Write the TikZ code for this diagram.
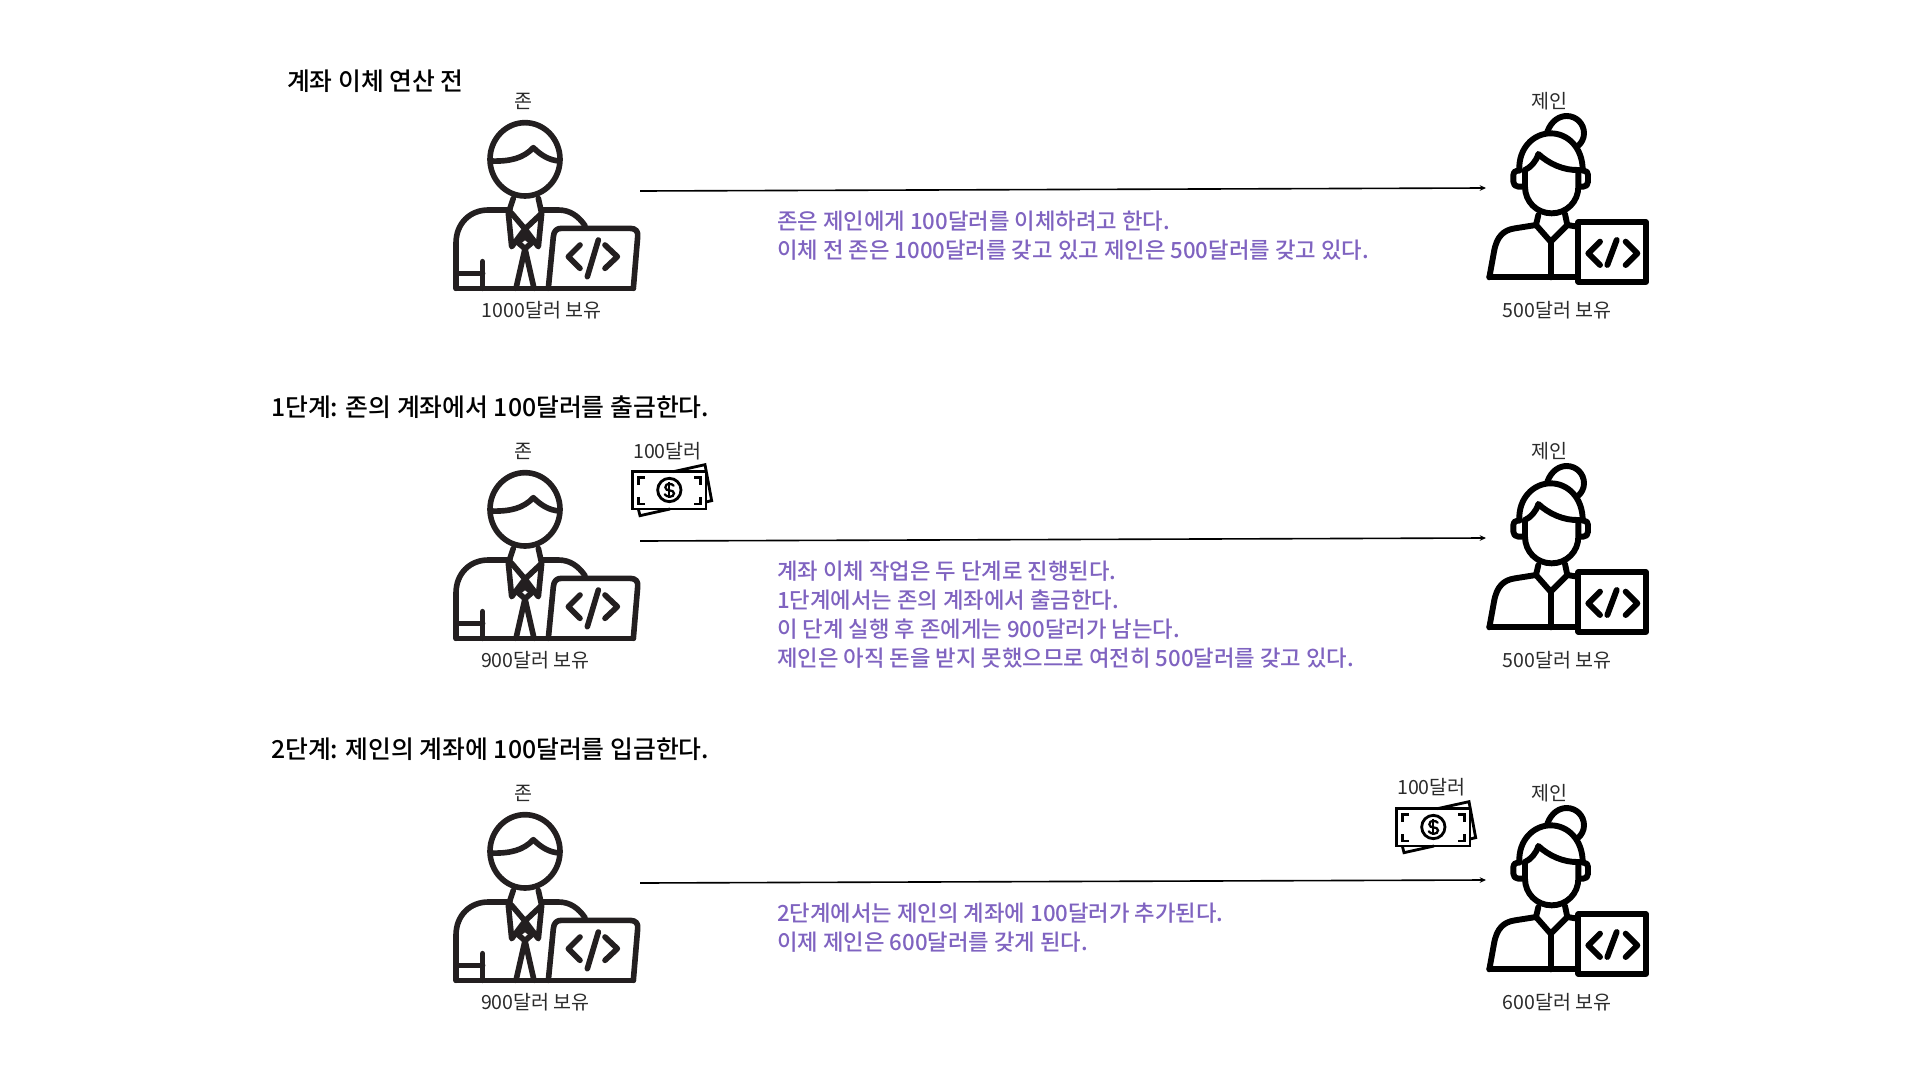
\documentclass[tikz,border=0pt]{standalone}
\usepackage{fontspec}
\setmainfont{Noto Sans CJK KR}
\newfontfamily\medfont{Noto Sans CJK KR Medium}
\usetikzlibrary{arrows.meta}
\definecolor{inkc}{HTML}{231F20}
\definecolor{purp}{HTML}{7F63C0}
\definecolor{labelc}{HTML}{2B2B2B}
\tikzset{
  x=0.05cm,y=-0.05cm,
  titletext/.style={anchor=west,inner sep=0,font=\medfont\fontsize{35.3pt}{42pt}\selectfont},
  bodytext/.style={anchor=north west,inner sep=0,align=left,text=purp,font=\medfont\fontsize{31.7pt}{41.25pt}\selectfont},
  labeltext/.style={inner sep=0,text=labelc,font=\fontsize{27.8pt}{32pt}\selectfont},
  flow/.style={draw=black,line width=2.3pt,-{Stealth[length=9pt,width=8pt]}},
  iconm/.style={draw=inkc,line width=8pt,line cap=round,line join=round},
  iconw/.style={draw=black,line width=8.4pt,line cap=round,line join=round},
  iconc/.style={draw=black,line width=4pt,line cap=butt,line join=miter},
  man/.pic={
    \begin{scope}[iconm]
    \draw (285,238) ellipse[x radius=105,y radius=110];
    \draw (182,243) .. controls (240,245) and (280,235) .. (310,203) .. controls (335,228) and (360,241) .. (388,243);
    \draw (250,355) -- (235,400) -- (245,500) -- (285,447) -- (335,400) (325,355) -- (335,400) -- (325,500) -- (285,447) -- (245,400);
    \draw (285,470) -- (307,487) -- (285,506) -- (263,487) -- cycle;
    \draw (285,506) -- (258,625) (285,506) -- (312,625);
    \draw (78,625) -- (78,490) .. controls (78,430) and (120,390) .. (175,390) -- (240,390);
    \draw (335,390) -- (385,390) .. controls (420,390) and (445,408) .. (465,437);
    \draw (78,580) -- (158,580) (158,545) -- (158,625);
    \draw (78,625) -- (610,625);
    \draw (355,625) -- (370,470) .. controls (372,452) and (380,445) .. (395,445) -- (600,445) .. controls (618,445) and (625,455) .. (623,470) -- (610,625);
    \draw (450,495) -- (415,530) -- (450,565);
    \draw (505,480) -- (472,590);
    \draw (525,495) -- (562,530) -- (525,565);
    \end{scope}
  },
  woman/.pic={
    \begin{scope}[iconw]
    \draw (262,155) .. controls (275,120) and (300,108) .. (320,108) .. controls (350,108) and (372,132) .. (372,160) .. controls (372,175) and (365,188) .. (355,197);
    \draw (178,270) .. controls (175,205) and (220,160) .. (272,160) .. controls (325,160) and (368,205) .. (368,270);
    \draw (195,270) .. controls (212,262) and (228,245) .. (235,222) .. controls (265,250) and (310,272) .. (357,270);
    \draw (195,270) -- (195,320) .. controls (195,365) and (230,400) .. (275,400) .. controls (320,400) and (355,365) .. (355,320) -- (355,270);
    \draw (178,272) -- (172,272) .. controls (164,272) and (160,278) .. (160,285) -- (160,305) .. controls (160,314) and (166,320) .. (175,320) -- (192,320);
    \draw (368,272) -- (372,272) .. controls (380,272) and (384,278) .. (384,285) -- (384,305) .. controls (384,314) and (378,320) .. (370,320) -- (357,320);
    \draw (235,405) -- (228,435) -- (272,485) -- (322,435) -- (315,402);
    \draw (88,592) -- (102,515) .. controls (110,470) and (130,450) .. (165,445) -- (228,435);
    \draw (322,435) -- (352,440);
    \draw (272,485) -- (272,592);
    \draw (88,592) -- (352,592);
    \draw (355,427) rectangle (558,605);
    \draw (420,485) -- (385,520) -- (420,555);
    \draw (470,480) -- (442,555);
    \draw (497,485) -- (532,520) -- (497,555);
    \end{scope}
  },
  money/.pic={
    \begin{scope}[iconc]
    \draw (38,125) rectangle (258,237);
    \draw (160,125) -- (255,104) -- (275,212) -- (258,216);
    \draw (55,237) -- (60,257) -- (150,237);
    \draw (148,180) circle[radius=35];
    \draw (75,142) -- (55,142) -- (55,165);
    \draw (222,142) -- (242,142) -- (242,165);
    \draw (75,222) -- (55,222) -- (55,200);
    \draw (222,222) -- (242,222) -- (242,200);
    \draw[line width=3.2pt,line cap=round] (161,167) .. controls (156,160) and (136,158) .. (136,172) .. controls (136,187) and (162,176) .. (162,190) .. controls (162,204) and (140,202) .. (134,193);
    \draw[line width=2.8pt] (148,155) -- (148,205);
    \end{scope}
  },
}
\begin{document}
\begin{tikzpicture}
\useasboundingbox (0,0) rectangle (1920,1080);
% row 1
\node[titletext] (t1) at (287,81) {계좌 이체 연산 전};
\pic at (430,80) [scale=1/3] {man};
\pic at (1460,80) [scale=1/3] {woman};
\node[labeltext] (j1) at (523,101) {존};
\node[labeltext] (w1) at (1549.5,101) {제인};
\node[labeltext] (ja1) at (541.5,310) {1000달러 보유};
\node[labeltext] (wa1) at (1557,310) {500달러 보유};
\coordinate (s1) at (640,191);
\coordinate (e1) at (1486,188);
\draw[flow] (s1) -- (e1);
\node[bodytext] (b1) at (777,211) {존은 제인에게 100달러를 이체하려고 한다.\\이체 전 존은 1000달러를 갖고 있고 제인은 500달러를 갖고 있다.};
% row 2
\node[titletext] (t2) at (271,407) {1단계: 존의 계좌에서 100달러를 출금한다.};
\pic at (430,430) [scale=1/3] {man};
\pic at (1460,430) [scale=1/3] {woman};
\pic at (620,430) [scale=1/3] {money};
\node[labeltext] (j2) at (523,451) {존};
\node[labeltext] (w2) at (1549.5,451) {제인};
\node[labeltext] (m2) at (667.5,451) {100달러};
\node[labeltext] (ja2) at (535.5,660) {900달러 보유};
\node[labeltext] (wa2) at (1557,660) {500달러 보유};
\coordinate (s2) at (640,541);
\coordinate (e2) at (1486,538);
\draw[flow] (s2) -- (e2);
\node[bodytext] (b2) at (777,561) {계좌 이체 작업은 두 단계로 진행된다.\\1단계에서는 존의 계좌에서 출금한다.\\이 단계 실행 후 존에게는 900달러가 남는다.\\제인은 아직 돈을 받지 못했으므로 여전히 500달러를 갖고 있다.};
% row 3
\node[titletext] (t3) at (271,749) {2단계: 제인의 계좌에 100달러를 입금한다.};
\pic at (430,772) [scale=1/3] {man};
\pic at (1460,772) [scale=1/3] {woman};
\pic at (1384,767) [scale=1/3] {money};
\node[labeltext] (j3) at (523,793) {존};
\node[labeltext] (w3) at (1549.5,793) {제인};
\node[labeltext] (m3) at (1431.5,787) {100달러};
\node[labeltext] (ja3) at (535.5,1002) {900달러 보유};
\node[labeltext] (wa3) at (1557,1002) {600달러 보유};
\coordinate (s3) at (640,883);
\coordinate (e3) at (1486,880);
\draw[flow] (s3) -- (e3);
\node[bodytext] (b3) at (777,903) {2단계에서는 제인의 계좌에 100달러가 추가된다.\\이제 제인은 600달러를 갖게 된다.};
\end{tikzpicture}
\end{document}
